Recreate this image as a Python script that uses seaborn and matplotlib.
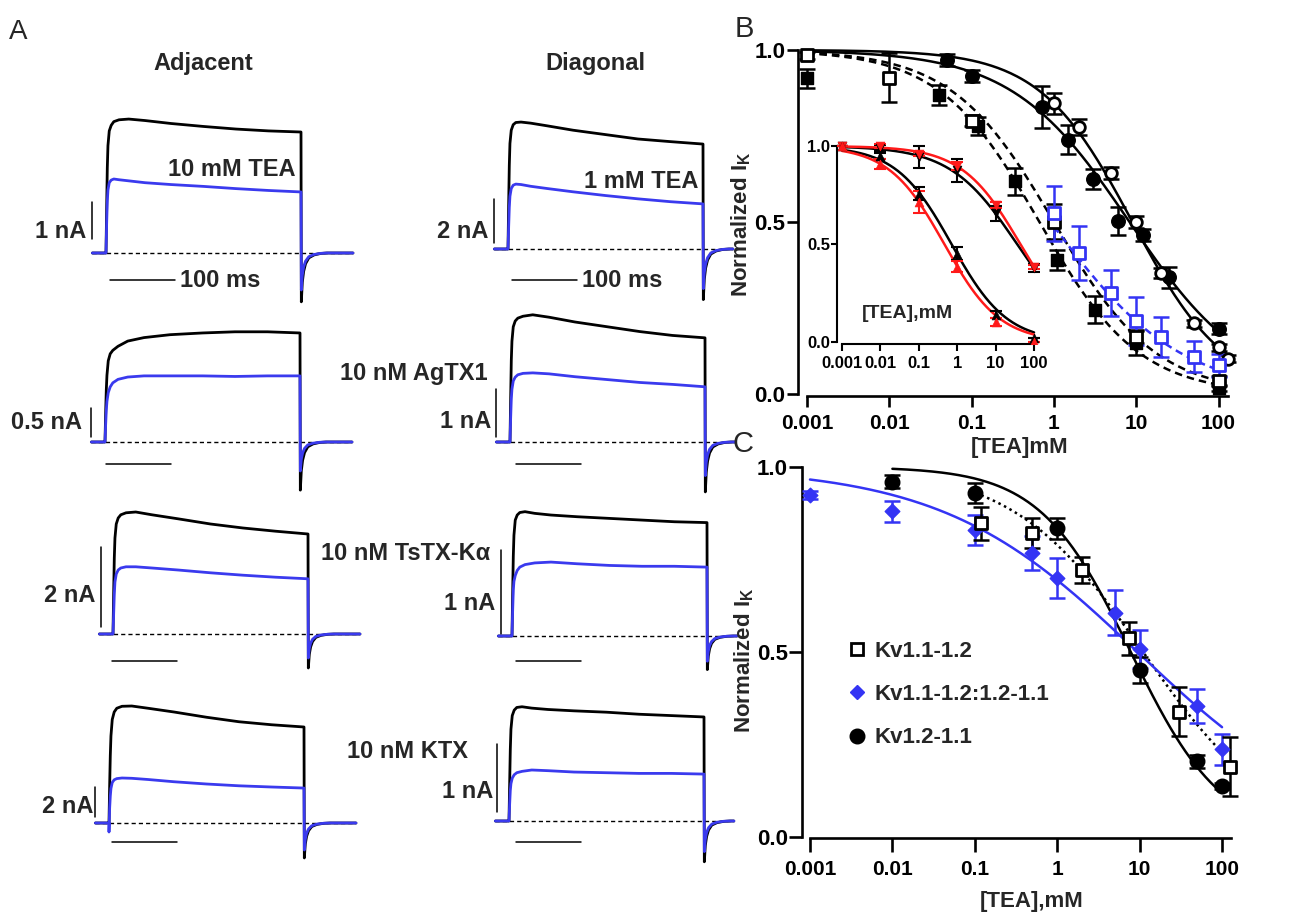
import numpy as np
import pandas as pd
import matplotlib
matplotlib.use("Agg")
import matplotlib.pyplot as plt
import seaborn as sns
from matplotlib.lines import Line2D
from matplotlib.ticker import NullLocator

sns.set_theme(style="ticks")
plt.rcParams['font.family'] = ['Liberation Sans', 'DejaVu Sans']
plt.rcParams['font.weight'] = 'bold'
plt.rcParams['mathtext.fontset'] = 'custom'
plt.rcParams['mathtext.rm'] = 'Liberation Sans'
plt.rcParams['mathtext.bf'] = 'Liberation Sans:bold'
plt.rcParams['mathtext.it'] = 'Liberation Sans:italic'

# ======================= DATA =======================
# ---- Panel A: whole-cell currents (nA) ----
STEP_T = [0, 1, 2, 3, 5, 8, 12, 20, 35, 60, 100, 150, 200, 250, 300]   # ms after step onset
TAIL_T = [0.5, 2, 4, 7, 12, 20, 30, 40]                                # ms after step end
TAIL_SHAPE = [1.0, 0.6, 0.38, 0.22, 0.1, 0.04, 0.01, 0.0]               # relative tail amplitude
PRE_T = -21
TRACE_END = [380, 346]   # ms (adjacent column, diagonal column)

adj_tea_ctrl = [0, 1.2, 2.3, 2.9, 3.3, 3.45, 3.55, 3.6, 3.62, 3.58, 3.5, 3.42, 3.35, 3.3, 3.27]
adj_tea_drug = [0, 0.8, 1.4, 1.7, 1.9, 1.97, 2.0, 1.98, 1.95, 1.9, 1.85, 1.8, 1.74, 1.69, 1.65]
adj_agtx_ctrl = [0, 0.5, 0.9, 1.15, 1.4, 1.52, 1.58, 1.65, 1.74, 1.8, 1.85, 1.88, 1.9, 1.9, 1.88]
adj_agtx_drug = [0, 0.3, 0.55, 0.7, 0.85, 0.95, 1.02, 1.08, 1.12, 1.14, 1.14, 1.14, 1.13, 1.14, 1.14]
adj_tstx_ctrl = [0, 1.0, 1.9, 2.4, 2.75, 2.9, 2.98, 3.03, 3.05, 2.98, 2.88, 2.75, 2.65, 2.57, 2.5]
adj_tstx_drug = [0, 0.5, 1.0, 1.3, 1.5, 1.6, 1.65, 1.68, 1.68, 1.65, 1.6, 1.53, 1.47, 1.42, 1.38]
adj_ktx_ctrl = [0, 2.5, 4.5, 5.8, 6.9, 7.4, 7.65, 7.78, 7.8, 7.65, 7.4, 7.05, 6.75, 6.55, 6.4]
adj_ktx_drug = [-0.6, 1.0, 1.8, 2.3, 2.7, 2.88, 2.96, 3.0, 2.98, 2.9, 2.75, 2.6, 2.48, 2.4, 2.33]

diag_tea_ctrl = [0, 2.0, 3.8, 4.8, 5.4, 5.65, 5.75, 5.77, 5.72, 5.6, 5.4, 5.2, 5.0, 4.88, 4.77]
diag_tea_drug = [0, 1.0, 1.9, 2.4, 2.75, 2.9, 2.95, 2.93, 2.85, 2.75, 2.6, 2.43, 2.28, 2.15, 2.05]
diag_agtx_ctrl = [0, 0.9, 1.7, 2.1, 2.4, 2.52, 2.58, 2.62, 2.65, 2.6, 2.5, 2.4, 2.3, 2.22, 2.17]
diag_agtx_drug = [0, 0.5, 0.9, 1.1, 1.27, 1.35, 1.4, 1.43, 1.44, 1.42, 1.36, 1.3, 1.24, 1.2, 1.15]
diag_tstx_ctrl = [0, 0.5, 0.95, 1.2, 1.38, 1.44, 1.47, 1.48, 1.46, 1.44, 1.42, 1.4, 1.38, 1.36, 1.35]
diag_tstx_drug = [0, 0.3, 0.55, 0.65, 0.72, 0.78, 0.82, 0.85, 0.87, 0.88, 0.86, 0.84, 0.83, 0.83, 0.82]
diag_ktx_ctrl = [0, 0.55, 1.05, 1.35, 1.55, 1.63, 1.67, 1.68, 1.66, 1.64, 1.62, 1.6, 1.57, 1.55, 1.53]
diag_ktx_drug = [0, 0.25, 0.45, 0.55, 0.63, 0.68, 0.71, 0.73, 0.75, 0.74, 0.72, 0.71, 0.7, 0.7, 0.69]

tail_min_adj_ctrl = [-1.32, -0.83, -0.85, -2.33]
tail_min_adj_drug = [-1.0, -0.5, -0.6, -1.8]
tail_min_diag_ctrl = [-2.3, -1.04, -0.4, -0.6]
tail_min_diag_drug = [-1.8, -0.7, -0.3, -0.45]

scale_nA_adj = [1, 0.5, 2, 2]
scale_nA_diag = [2, 1, 1, 1]
scale_ms = 100
drug_labels_adj = ["10 mM TEA", None, None, None]
drug_labels_diag = ["1 mM TEA", "10 nM AgTX1", "10 nM TsTX-K\u03b1", "10 nM KTX"]

# ---- Panel B ----
TICK_X = [0.001, 0.01, 0.1, 1, 10, 100]
TICK_X_LABELS = ["0.001", "0.01", "0.1", "1", "10", "100"]
TICK_Y = [0.0, 0.5, 1.0]
TICK_Y_LABELS = ["0.0", "0.5", "1.0"]

b_x_ocirc = [1, 2, 5, 10, 20, 50, 100, 130]
b_y_ocirc = [0.845, 0.775, 0.642, 0.499, 0.351, 0.206, 0.136, 0.103]
b_e_ocirc = [0.03, 0.023, 0.017, 0.017, 0.015, 0.01, 0.01, 0.01]
b_x_fcirc = [0.05, 0.1, 0.72, 1.5, 3, 6, 12, 25, 100]
b_y_fcirc = [0.971, 0.924, 0.834, 0.739, 0.625, 0.503, 0.463, 0.339, 0.19]
b_e_fcirc = [0.017, 0.017, 0.06, 0.042, 0.03, 0.04, 0.017, 0.03, 0.015]
b_x_fsq = [0.001, 0.04, 0.12, 0.34, 1.1, 3.2, 10, 100]
b_y_fsq = [0.918, 0.869, 0.779, 0.618, 0.39, 0.245, 0.148, 0.017]
b_e_fsq = [0.028, 0.03, 0.027, 0.04, 0.03, 0.04, 0.036, 0.008]
b_x_osq = [0.001, 0.01, 0.1, 1, 10, 100]
b_y_osq = [0.985, 0.92, 0.795, 0.501, 0.167, 0.037]
b_e_osq = [0.01, 0.072, 0.017, 0.05, 0.02, 0.015]
b_x_bsq = [1, 2, 5, 10, 20, 50, 100]
b_y_bsq = [0.526, 0.41, 0.293, 0.211, 0.165, 0.109, 0.083]
b_e_bsq = [0.08, 0.078, 0.067, 0.07, 0.058, 0.044, 0.034]
# Hill fits: IC50 (mM), Hill coefficient, drawn range
b_fit_ic50 = [9.0, 8.3, 0.667, 1.0, 0.91]
b_fit_n = [0.77, 0.607, 0.715, 0.7, 0.55]
b_fit_lo = [0.001, 0.001, 0.001, 0.001, 1]
b_fit_hi = [135, 100, 100, 100, 100]

# ---- Panel B inset ----
ins_x = [0.001, 0.01, 0.1, 1, 10, 100]
ins_dn_black = [1.0, 0.99, 0.944, 0.876, 0.656, 0.376]
ins_dn_black_e = [0.0, 0.017, 0.058, 0.06, 0.04, 0.02]
ins_dn_red = [1.0, 1.0, 0.958, 0.90, 0.70, 0.385]
ins_dn_red_e = [0.0, 0.01, 0.01, 0.02, 0.017, 0.01]
ins_up_black = [1.0, 0.95, 0.757, 0.45, 0.14, 0.02]
ins_up_black_e = [0.0, 0.015, 0.034, 0.034, 0.017, 0.0]
ins_up_red = [1.0, 0.91, 0.715, 0.385, 0.10, 0.0]
ins_up_red_e = [0.0, 0.025, 0.055, 0.03, 0.02, 0.0]
ins_fit_ic50 = [36, 44, 0.71, 0.46]
ins_fit_n = [0.5, 0.57, 0.6, 0.6]

# ---- Panel C ----
c_x_sq = [0.12, 0.5, 2, 7.5, 30, 125]
c_y_sq = [0.847, 0.822, 0.721, 0.537, 0.339, 0.19]
c_e_sq = [0.045, 0.04, 0.036, 0.044, 0.066, 0.08]
c_x_dia = [0.001, 0.01, 0.1, 0.5, 1, 5, 10, 50, 100]
c_y_dia = [0.924, 0.88, 0.829, 0.766, 0.70, 0.606, 0.507, 0.354, 0.237]
c_e_dia = [0.01, 0.029, 0.04, 0.046, 0.055, 0.06, 0.051, 0.046, 0.042]
c_x_circ = [0.01, 0.1, 1, 10, 50, 100]
c_y_circ = [0.96, 0.93, 0.834, 0.451, 0.204, 0.137]
c_e_circ = [0.018, 0.027, 0.029, 0.035, 0.017, 0.008]
c_fit_ic50 = [11.0, 9.4, 7.8]
c_fit_n = [0.55, 0.365, 0.786]
c_fit_lo = [0.12, 0.001, 0.01]
c_fit_hi = [100, 100, 100]
c_labels = ["Kv1.1-1.2", "Kv1.1-1.2:1.2-1.1", "Kv1.2-1.1"]

# ======================= FIGURE =======================
W, H = 1300, 916
fig = plt.figure(figsize=(13, 9.16), dpi=100)
BLUE = "#3434f4"
TBLUE = "#3a3aee"
RED = "#ff1a1a"


def box(l, t, r, b):
    return [l / W, 1 - b / H, (r - l) / W, (b - t) / H]


def fx(x):
    return x / W


def fy(y):
    return 1 - y / H


def hill(x, ic50, n):
    return 1.0 / (1.0 + (x / ic50) ** n)


# ---------------- Panel A ----------------
PX_PER_MS = 0.65
adj_layout = [(106, 253, 37), (105, 442, 58), (113, 634, 40), (109, 823, 15)]
diag_layout = [(508, 249, 22), (510, 442, 48), (512, 636, 84), (509, 821, 68)]
adj_vbar = [(-21.5, 0.38), (-21.5, 0.09), (-18.5, 0.18), (-21.5, 0.4)]
diag_vbar = [(-21.5, 0.27), (-21.5, 0.1), (-17, 0.02), (-18.5, 0.13)]
adj_hbar = [(6, -0.73), (1.5, -0.38), (-1.5, -0.68), (4.6, -1.27)]
diag_hbar = [(6, -1.41), (9, -0.46), (6, -0.3), (10.8, -0.31)]

adj_ctrl = [adj_tea_ctrl, adj_agtx_ctrl, adj_tstx_ctrl, adj_ktx_ctrl]
adj_drug = [adj_tea_drug, adj_agtx_drug, adj_tstx_drug, adj_ktx_drug]
diag_ctrl = [diag_tea_ctrl, diag_agtx_ctrl, diag_tstx_ctrl, diag_ktx_ctrl]
diag_drug = [diag_tea_drug, diag_agtx_drug, diag_tstx_drug, diag_ktx_drug]


def build_trace(step_vals, tail_min, t_end):
    t = [PRE_T, -0.01] + list(STEP_T)
    i = [0.0, 0.0] + list(step_vals)
    t += [STEP_T[-1] + tt for tt in TAIL_T] + [t_end]
    i += [tail_min * s for s in TAIL_SHAPE] + [0.0]
    return pd.DataFrame({"t": t, "I": i})


def draw_trace(layout, ctrl, drug, tmin_c, tmin_d, t_end, vbar, hbar, scale_nA):
    onset, base, s = layout
    ax = fig.add_axes(box(onset - 40, base - 170, onset + 260, base + 70))
    ax.set_xlim(-40 / PX_PER_MS, 260 / PX_PER_MS)
    ax.set_ylim(-70 / s, 170 / s)
    ax.axis('off')
    ax.patch.set_alpha(0)
    dc = build_trace(ctrl, tmin_c, t_end)
    dd = build_trace(drug, tmin_d, t_end)
    ax.plot([dc.t.iloc[0], dc.t.iloc[-1]], [0, 0], ls=(0, (3, 2.2)), lw=1.0, color='black', zorder=1)
    sns.lineplot(data=dc, x="t", y="I", sort=False, estimator=None, color='black', lw=2.0, ax=ax, zorder=2)
    sns.lineplot(data=dd, x="t", y="I", sort=False, estimator=None, color=TBLUE, lw=2.0, ax=ax, zorder=3)
    ax.plot([vbar[0], vbar[0]], [vbar[1], vbar[1] + scale_nA], color='black', lw=1.1)
    ax.plot([hbar[0], hbar[0] + scale_ms], [hbar[1], hbar[1]], color='black', lw=1.1)
    return ax


for k in range(4):
    draw_trace(adj_layout[k], adj_ctrl[k], adj_drug[k], tail_min_adj_ctrl[k], tail_min_adj_drug[k],
               TRACE_END[0], adj_vbar[k], adj_hbar[k], scale_nA_adj[k])
    draw_trace(diag_layout[k], diag_ctrl[k], diag_drug[k], tail_min_diag_ctrl[k], tail_min_diag_drug[k],
               TRACE_END[1], diag_vbar[k], diag_hbar[k], scale_nA_diag[k])

TF = 17
fig.text(fx(9), fy(39), "A", fontsize=20, fontweight='normal', va='baseline', ha='left')
fig.text(fx(203), fy(70), "Adjacent", fontsize=TF, ha='center', va='baseline')
fig.text(fx(595), fy(70), "Diagonal", fontsize=TF, ha='center', va='baseline')
fig.text(fx(295), fy(176), drug_labels_adj[0], fontsize=TF, ha='right', va='baseline')
fig.text(fx(698), fy(188), drug_labels_diag[0], fontsize=TF, ha='right', va='baseline')
fig.text(fx(488), fy(380), drug_labels_diag[1], fontsize=TF, ha='right', va='baseline')
fig.text(fx(490), fy(560), drug_labels_diag[2], fontsize=TF, ha='right', va='baseline')
fig.text(fx(468), fy(758), drug_labels_diag[3], fontsize=TF, ha='right', va='baseline')
fig.text(fx(180), fy(287), f"{scale_ms} ms", fontsize=TF, ha='left', va='baseline')
fig.text(fx(582), fy(287), f"{scale_ms} ms", fontsize=TF, ha='left', va='baseline')


def nA_text(v):
    return f"{v:g} nA"


adj_nA_pos = [(86, 238), (82, 429), (95, 602), (93, 813)]
diag_nA_pos = [(488, 238), (491, 428), (495, 610), (493, 798)]
for k in range(4):
    fig.text(fx(adj_nA_pos[k][0]), fy(adj_nA_pos[k][1]), nA_text(scale_nA_adj[k]), fontsize=TF,
             ha='right', va='baseline')
    fig.text(fx(diag_nA_pos[k][0]), fy(diag_nA_pos[k][1]), nA_text(scale_nA_diag[k]), fontsize=TF,
             ha='right', va='baseline')


# ---------------- axis styling helper ----------------
def style_log_axes(ax, xspan_hi, lw, xlen, ylen, xls, yls, xpad, ypad):
    ax.set_xscale('log')
    sns.despine(ax=ax)
    ax.spines['left'].set_bounds(0, 1)
    ax.spines['bottom'].set_bounds(0.001, xspan_hi)
    for sp in ['left', 'bottom']:
        ax.spines[sp].set_linewidth(lw)
        ax.spines[sp].set_color('black')
    ax.set_xticks(TICK_X)
    ax.set_xticklabels(TICK_X_LABELS)
    ax.xaxis.set_minor_locator(NullLocator())
    ax.set_yticks(TICK_Y)
    ax.set_yticklabels(TICK_Y_LABELS)
    ax.tick_params(axis='x', length=xlen, width=lw, labelsize=xls, pad=xpad, colors='black')
    ax.tick_params(axis='y', length=ylen, width=lw, labelsize=yls, pad=ypad, colors='black')
    ax.set_xlabel("")
    ax.set_ylabel("")
    ax.patch.set_alpha(0)
    ax.grid(False)


def errbars(ax, x, y, e, color, lw=1.8, cap=6):
    ax.errorbar(x, y, yerr=e, fmt='none', ecolor=color, elinewidth=lw, capsize=cap, capthick=lw, zorder=4)


def fit_line(ax, ic50, n, lo, hi, color, ls, lw=1.8):
    xs = np.logspace(np.log10(lo), np.log10(hi), 200)
    d = pd.DataFrame({"x": xs, "y": hill(xs, ic50, n)})
    sns.lineplot(data=d, x="x", y="y", color=color, lw=lw, ls=ls, ax=ax, zorder=3, estimator=None)


# ---------------- Panel B ----------------
axB = fig.add_axes(box(798, 45, 1240, 396))
axB.set_xscale('log')
styles_B = ['-', '-', (0, (3, 2)), (0, (3, 2)), (0, (3, 2))]
colors_B = ['black', 'black', 'black', 'black', BLUE]
for k in range(5):
    fit_line(axB, b_fit_ic50[k], b_fit_n[k], b_fit_lo[k], b_fit_hi[k], colors_B[k], styles_B[k], lw=1.8)

errbars(axB, b_x_fcirc, b_y_fcirc, b_e_fcirc, 'black')
errbars(axB, b_x_ocirc, b_y_ocirc, b_e_ocirc, 'black')
errbars(axB, b_x_fsq, b_y_fsq, b_e_fsq, 'black')
errbars(axB, b_x_osq, b_y_osq, b_e_osq, 'black')
errbars(axB, b_x_bsq, b_y_bsq, b_e_bsq, BLUE)
sns.scatterplot(x=b_x_fcirc, y=b_y_fcirc, marker='o', s=95, color='black', edgecolor='black', lw=1, ax=axB, zorder=5)
sns.scatterplot(x=b_x_ocirc, y=b_y_ocirc, marker='o', s=70, color='white', edgecolor='black', lw=2, ax=axB, zorder=5)
sns.scatterplot(x=b_x_fsq, y=b_y_fsq, marker='s', s=85, color='black', edgecolor='black', lw=1, ax=axB, zorder=5)
sns.scatterplot(x=b_x_osq, y=b_y_osq, marker='s', s=75, color='white', edgecolor='black', lw=2, ax=axB, zorder=6)
sns.scatterplot(x=b_x_bsq, y=b_y_bsq, marker='s', s=75, color='white', edgecolor=BLUE, lw=2, ax=axB, zorder=6)

axB.set_xlim(10 ** -3.109, 10 ** 2.261)
axB.set_ylim(-0.0058, 1.0145)
style_log_axes(axB, 130, 1.9, 8, 8, 15, 16, 5, 1)

fig.text(fx(735), fy(37), "B", fontsize=21, fontweight='normal', va='baseline', ha='left')
fig.text(fx(741), fy(224), "Normalized I$_\\mathbf{K}$", fontsize=16, rotation=90, ha='center', va='center')
fig.text(fx(1020), fy(447), "[TEA]mM", fontsize=16, ha='center', va='center')

# ---------------- Inset ----------------
axI = fig.add_axes(box(837, 140, 1045, 344))
axI.set_xscale('log')
ins_series = [ins_dn_black, ins_dn_red, ins_up_black, ins_up_red]
ins_err = [ins_dn_black_e, ins_dn_red_e, ins_up_black_e, ins_up_red_e]
ins_col = ['black', RED, 'black', RED]
ins_mark = ['v', 'v', '^', '^']
for k in range(4):
    fit_line(axI, ins_fit_ic50[k], ins_fit_n[k], 0.001, 100, ins_col[k], '-', lw=1.8)
for k in range(4):
    errbars(axI, ins_x, ins_series[k], ins_err[k], ins_col[k], lw=1.5, cap=4)
    sns.scatterplot(x=ins_x, y=ins_series[k], marker=ins_mark[k], s=40, color=ins_col[k],
                    edgecolor=ins_col[k], lw=0.5, ax=axI, zorder=6 + k)
axI.set_xlim(10 ** -3.13, 10 ** 2.286)
axI.set_ylim(-0.0102, 1.031)
style_log_axes(axI, 100, 1.5, 5, 4, 12, 12, 4, 1)
axI.spines['bottom'].set_bounds(0.001, 100)
fig.text(fx(907), fy(313), "[TEA],mM", fontsize=14, ha='center', va='center')

# ---------------- Panel C ----------------
axC = fig.add_axes(box(802, 455, 1240, 838))
axC.set_xscale('log')
styles_C = [(0, (1, 1.5)), '-', '-']
colors_C = ['black', BLUE, 'black']
for k in range(3):
    fit_line(axC, c_fit_ic50[k], c_fit_n[k], c_fit_lo[k], c_fit_hi[k], colors_C[k], styles_C[k], lw=1.8)
errbars(axC, c_x_circ, c_y_circ, c_e_circ, 'black')
errbars(axC, c_x_dia, c_y_dia, c_e_dia, BLUE)
errbars(axC, c_x_sq, c_y_sq, c_e_sq, 'black')
sns.scatterplot(x=c_x_circ, y=c_y_circ, marker='o', s=110, color='black', edgecolor='black', lw=1, ax=axC, zorder=5)
sns.scatterplot(x=c_x_dia, y=c_y_dia, marker='D', s=55, color=BLUE, edgecolor=BLUE, lw=1, ax=axC, zorder=6)
sns.scatterplot(x=c_x_sq, y=c_y_sq, marker='s', s=85, color='white', edgecolor='black', lw=2, ax=axC, zorder=7)
axC.set_xlim(10 ** -3.097, 10 ** 2.218)
axC.set_ylim(-0.0027, 1.032)
style_log_axes(axC, 128, 1.9, 10, 9.5, 15, 16, 6, 0.5)

handles = [
    Line2D([], [], ls='none', marker='s', ms=9, mfc='white', mec='black', mew=2),
    Line2D([], [], ls='none', marker='D', ms=7.5, mfc=BLUE, mec=BLUE),
    Line2D([], [], ls='none', marker='o', ms=10.5, mfc='black', mec='black'),
]
leg = fig.legend(handles, c_labels, loc='upper left', bbox_to_anchor=(fx(846), fy(641)), frameon=False,
                 fontsize=16, handlelength=1.0, handletextpad=0.3, labelspacing=1.0, borderpad=0,
                 borderaxespad=0)

fig.text(fx(733), fy(452), "C", fontsize=21, fontweight='normal', va='baseline', ha='left')
fig.text(fx(744), fy(660), "Normalized I$_\\mathbf{K}$", fontsize=16, rotation=90, ha='center', va='center')
fig.text(fx(1032), fy(902), "[TEA],mM", fontsize=16, ha='center', va='center')

fig.savefig("out.png", dpi=100, facecolor='white')
